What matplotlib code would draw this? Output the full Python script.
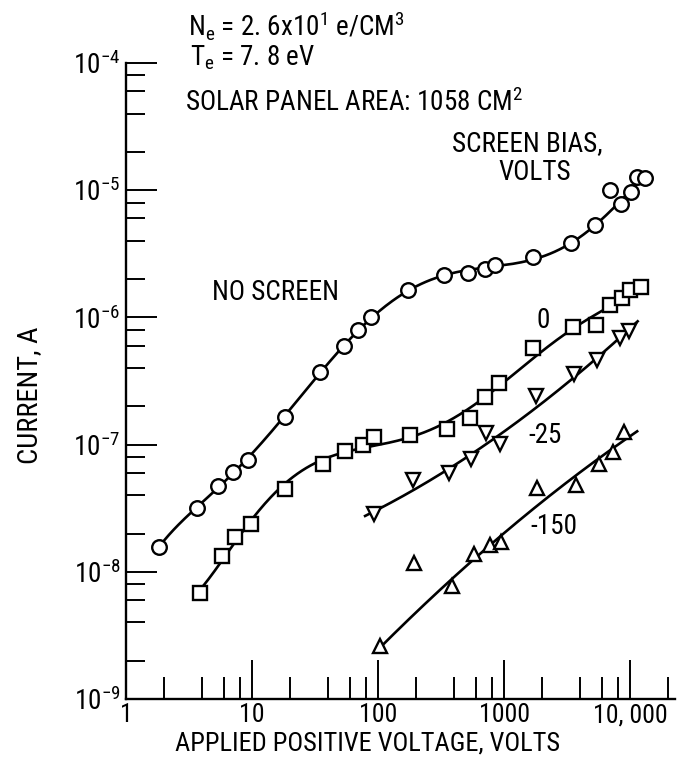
import numpy as np
import matplotlib
matplotlib.use('Agg')
import matplotlib.pyplot as plt
from matplotlib.ticker import LogLocator, NullFormatter
from matplotlib import font_manager

# ---- data ----
ns_v = [1.83, 3.66, 5.37, 7.07, 9.3, 18.3, 34.7, 53.7, 69.4, 88, 173, 334, 518,
        707, 849, 1699, 3400, 5275, 6940, 8480, 10180, 11370, 13150]
ns_i = [1.57e-8, 3.18e-8, 4.73e-8, 6.1e-8, 7.57e-8, 1.65e-7, 3.72e-7, 5.96e-7,
        7.96e-7, 1.0e-6, 1.64e-6, 2.15e-6, 2.23e-6, 2.4e-6, 2.58e-6, 2.98e-6,
        3.85e-6, 5.32e-6, 1.0e-5, 7.8e-6, 9.7e-6, 1.27e-5, 1.25e-5]

sq_v = [3.87, 5.78, 7.33, 9.82, 18.3, 36.6, 54.7, 76, 93, 179, 353, 537, 707,
        912, 1699, 3530, 5370, 6940, 8640, 10000, 12200]
sq_i = [6.8e-9, 1.33e-8, 1.88e-8, 2.38e-8, 4.48e-8, 7.03e-8, 8.9e-8, 9.9e-8,
        1.15e-7, 1.19e-7, 1.33e-7, 1.62e-7, 2.37e-7, 3.05e-7, 5.74e-7, 8.4e-7,
        8.7e-7, 1.25e-6, 1.42e-6, 1.64e-6, 1.73e-6]

m25_v = [93, 190, 366, 547, 720, 930, 1795, 3590, 5470, 8330, 9810]
m25_i = [2.84e-8, 5.27e-8, 5.98e-8, 7.7e-8, 1.23e-7, 1.01e-7, 2.41e-7, 3.59e-7,
         4.62e-7, 6.89e-7, 7.82e-7]

m150_v = [104, 193, 387, 578, 774, 946, 1828, 3727, 5675, 7330, 8960]
m150_i = [2.61e-9, 1.17e-8, 7.7e-9, 1.38e-8, 1.63e-8, 1.71e-8, 4.56e-8,
          4.81e-8, 7.0e-8, 8.75e-8, 1.26e-7]

x_ticks = [1, 10, 100, 1000, 10000]
x_ticklabels = ['1', '10', '100', '1000', '10, 000']
y_ticks = [1e-9, 1e-8, 1e-7, 1e-6, 1e-5, 1e-4]
y_ticklabels = [r'$10^{-9}$', r'$10^{-8}$', r'$10^{-7}$', r'$10^{-6}$',
                r'$10^{-5}$', r'$10^{-4}$']

# ---- fonts: prefer a narrow face, like the original lettering ----
ttf = font_manager.fontManager.ttflist
names = {f.name for f in ttf}
stretch = 'normal'
main = None
for cand in ['Liberation Sans Narrow', 'Roboto Condensed', 'Open Sans Condensed',
             'Noto Sans Condensed', 'Arial Narrow']:
    if cand in names:
        main = cand
        break
if main is None:
    for fam in ['DejaVu Sans', 'Noto Sans', 'Open Sans', 'Roboto']:
        if any(f.name == fam and 'condensed' in str(f.stretch) for f in ttf):
            main = fam
            stretch = 'condensed'
            break
if main is None:
    main = 'Roboto' if 'Roboto' in names else 'DejaVu Sans'

plt.rcParams['font.family'] = [main, 'DejaVu Sans']
plt.rcParams['font.stretch'] = stretch
plt.rcParams['mathtext.fontset'] = 'custom'
plt.rcParams['mathtext.rm'] = main
plt.rcParams['mathtext.it'] = main
plt.rcParams['mathtext.bf'] = main
plt.rcParams['mathtext.sf'] = main

W, H = 693, 769
fig = plt.figure(figsize=(W / 100, H / 100), dpi=100)
L, R, T, B = 126, 675, 63, 699
ax = fig.add_axes([L / W, 1 - B / H, (R - L) / W, (B - T) / H])
ax.set_xscale('log')
ax.set_yscale('log')
ax.set_xlim(1, 10 ** ((R - L) / 126))
ax.set_ylim(1e-9, 1e-4)


def fit_curve(v, i, deg, x0, x1, excl=()):
    lv = np.log10(np.asarray(v, float))
    li = np.log10(np.asarray(i, float))
    keep = np.ones(len(lv), bool)
    for k in excl:
        keep[k] = False
    p = np.polyfit(lv[keep], li[keep], deg)
    xs = np.linspace(np.log10(x0), np.log10(x1), 300)
    return 10 ** xs, 10 ** np.polyval(p, xs)


lw = 1.9
curves = [
    (ns_v, ns_i, 6, 1.83, 12000, (18,)),
    (sq_v, sq_i, 6, 3.87, 12200, ()),
    (m25_v, m25_i, 2, 79, 11500, (4,)),
    (m150_v, m150_i, 2, 100, 11400, (1,)),
]
for v, i, d, a, b, ex in curves:
    xs, ys = fit_curve(v, i, d, a, b, ex)
    ax.plot(xs, ys, color='black', lw=lw, zorder=2)

mk = dict(color='black', ls='none', mfc='white', mec='black', mew=1.7, zorder=3)
ax.plot(ns_v, ns_i, marker='o', ms=10.5, **mk)
ax.plot(sq_v, sq_i, marker='s', ms=10.5, **mk)
ax.plot(m25_v, m25_i, marker='v', ms=10.5, **mk)
ax.plot(m150_v, m150_i, marker='^', ms=10.5, **mk)

for s in ['top', 'right']:
    ax.spines[s].set_visible(False)
for s in ['left', 'bottom']:
    ax.spines[s].set_linewidth(1.7)

ax.set_xticks(x_ticks)
ax.set_xticklabels(x_ticklabels)
ax.set_yticks(y_ticks)
ax.set_yticklabels(y_ticklabels)
ax.xaxis.set_minor_locator(LogLocator(base=10, subs=(2, 4, 6, 8), numticks=20))
ax.yaxis.set_minor_locator(LogLocator(base=10, subs=(2, 4, 6, 8), numticks=20))
ax.xaxis.set_minor_formatter(NullFormatter())
ax.yaxis.set_minor_formatter(NullFormatter())
ax.tick_params(axis='x', which='major', direction='in', length=28, width=1.4,
               labelsize=18.5, pad=3)
ax.tick_params(axis='x', which='minor', direction='in', length=16, width=1.4)
ax.tick_params(axis='y', which='major', direction='in', length=22, width=1.4,
               labelsize=19.5, pad=4)
ax.tick_params(axis='y', which='minor', direction='in', length=14, width=1.4)

fs = 19
fig.text(368 / W, 1 - 743 / H, 'APPLIED POSITIVE VOLTAGE, VOLTS', ha='center',
         va='center', fontsize=fs)
fig.text(30 / W, 1 - 395 / H, 'CURRENT, A', ha='center', va='center',
         rotation=90, fontsize=20.5)

fs2 = 19.5
fig.text(188 / W, 1 - 36 / H, r'N$_e$ = 2. 6x10$^1$ e/CM$^3$', ha='left',
         va='baseline', fontsize=fs2)
fig.text(190 / W, 1 - 65 / H, r'T$_e$ = 7. 8 eV', ha='left', va='baseline',
         fontsize=fs2)
fig.text(185 / W, 1 - 111 / H, r'SOLAR PANEL AREA: 1058 CM$^2$', ha='left',
         va='baseline', fontsize=fs2)
fig.text(527 / W, 1 - 144 / H, 'SCREEN BIAS,', ha='center', va='center',
         fontsize=fs2)
fig.text(535 / W, 1 - 172 / H, 'VOLTS', ha='center', va='center', fontsize=fs2)
fig.text(276 / W, 1 - 292 / H, 'NO SCREEN', ha='center', va='center',
         fontsize=fs2)
fig.text(543 / W, 1 - 320 / H, '0', ha='center', va='center', fontsize=fs2)
fig.text(545 / W, 1 - 435 / H, '-25', ha='center', va='center', fontsize=fs2)
fig.text(554 / W, 1 - 527 / H, '-150', ha='center', va='center', fontsize=fs2)

fig.savefig('out.png', dpi=100)
